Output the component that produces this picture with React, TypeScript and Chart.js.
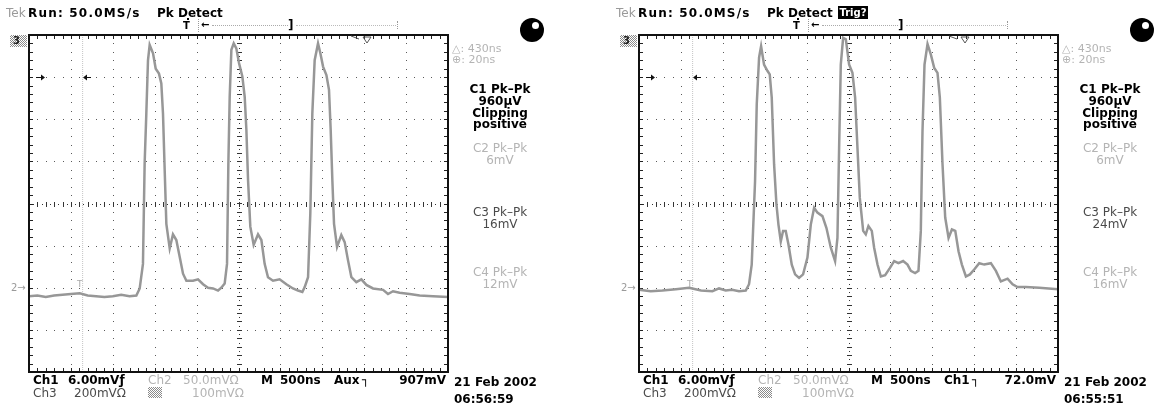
import React, { useEffect, useRef } from "react";
import { Chart, registerables } from "chart.js";

Chart.register(...registerables);

// ---- axis ranges (Tek scope: 10 x 500 ns, 8 x 6 mV) ----
const TIME_MIN_NS = 0;
const TIME_MAX_NS = 5000;
const TIME_DIV_NS = 500;
const VOLT_MIN_MV = -24;
const VOLT_MAX_MV = 24;
const VOLT_DIV_MV = 6;

// ---- left capture (06:56:59) ----
const LEFT_TIME_NS = [
  0, 100, 200, 300, 400, 500, 605, 700, 800, 900, 1000, 1100, 1200, 1281, 1321, 1360, 1380, 1400, 1420, 1440,
  1480, 1512, 1551, 1579, 1599, 1619, 1639, 1679, 1718, 1758, 1798, 1838, 1878, 1957, 2017, 2077, 2136, 2196,
  2256, 2295, 2335, 2363, 2379, 2395, 2415, 2443, 2474, 2506, 2546, 2574, 2594, 2614, 2641, 2681, 2733, 2773,
  2812, 2852, 2912, 2991, 3071, 3150, 3210, 3262, 3290, 3330, 3357, 3381, 3409, 3449, 3477, 3509, 3549, 3580,
  3600, 3620, 3640, 3676, 3727, 3767, 3807, 3847, 3906, 3966, 4026, 4105, 4225, 4284, 4344, 4423, 4543, 4662,
  4821, 5000,
];
const LEFT_CH1_MV = [
  -13.2, -13.1, -13.3, -13.1, -13.0, -12.9, -12.8, -13.1, -13.2, -13.3, -13.2, -13.0, -13.2, -13.1, -12.1, -8.6,
  5.7, 12.8, 20.4, 22.6, 21.4, 19.2, 18.5, 17.1, 12.8, 4.8, -2.9, -6.4, -4.4, -5.2, -7.6, -10.0, -11.0, -11.0,
  -10.8, -11.5, -12.0, -12.1, -12.4, -12.0, -11.4, -8.6, 5.7, 15.2, 21.9, 22.8, 22.1, 20.0, 18.1, 15.2, 10.5,
  3.3, -3.3, -5.9, -4.4, -5.2, -8.6, -10.5, -11.0, -10.8, -11.5, -12.1, -12.4, -12.6, -11.9, -10.5, -1.4, 12.8,
  20.4, 22.8, 21.4, 19.5, 18.3, 16.2, 10.5, 3.3, -2.9, -6.2, -4.5, -5.5, -8.1, -10.5, -11.2, -10.8, -11.6,
  -12.1, -12.3, -12.9, -12.5, -12.7, -12.9, -13.1, -13.2, -13.3,
];

// ---- right capture (06:55:51) ----
const RIGHT_TIME_NS = [
  0, 140, 279, 440, 597, 740, 876, 955, 1035, 1110, 1194, 1274, 1313, 1345, 1361, 1385, 1405, 1433, 1457, 1492,
  1532, 1560, 1584, 1612, 1640, 1664, 1692, 1719, 1751, 1783, 1823, 1863, 1910, 1958, 2010, 2050, 2090, 2129,
  2189, 2237, 2289, 2340, 2368, 2388, 2408, 2436, 2468, 2507, 2547, 2579, 2607, 2635, 2675, 2706, 2738, 2778,
  2806, 2846, 2886, 2937, 2993, 3045, 3096, 3152, 3204, 3244, 3295, 3335, 3363, 3383, 3407, 3443, 3483, 3523,
  3562, 3590, 3622, 3654, 3694, 3734, 3774, 3813, 3853, 3901, 3949, 4000, 4060, 4120, 4199, 4259, 4318, 4398,
  4458, 4517, 4617, 4776, 5000,
];
const RIGHT_CH1_MV = [
  -12.3, -12.5, -12.4, -12.2, -12.0, -12.4, -12.5, -12.1, -12.4, -12.3, -12.5, -12.4, -11.5, -8.7, -3.9, 3.2,
  14.1, 20.8, 22.4, 19.8, 18.9, 18.4, 15.1, 5.6, -0.1, -3.0, -5.4, -3.9, -3.9, -5.8, -8.7, -10.1, -10.6, -10.1,
  -7.7, -3.0, -0.6, -1.3, -1.8, -3.5, -6.3, -8.2, -4.9, 7.9, 19.8, 23.6, 23.4, 19.8, 18.6, 15.1, 7.9, 0.8, -3.9,
  -4.4, -3.2, -3.9, -6.3, -8.7, -10.4, -10.2, -9.2, -8.2, -8.5, -8.2, -8.7, -9.6, -9.9, -9.6, -3.9, 10.3, 19.8,
  22.7, 21.2, 19.3, 18.6, 15.1, 5.6, -2.0, -4.9, -3.7, -3.9, -6.8, -8.7, -10.4, -10.1, -9.4, -8.5, -8.7, -8.5,
  -9.6, -11.1, -10.7, -11.5, -11.9, -11.9, -12.0, -12.2,
];

// ---- cursors / markers ----
const CURSOR_TIME_NS = 640;
const CURSOR_LEVEL_MV = 18;
const CURSOR_ARROWS_NS = [167, 668];
const TRIGGER_MARK_NS = [4033, 3890];

// ---- texts ----
const PANEL_TRIG_SOURCE = ["Aux", "Ch1"];
const PANEL_TRIG_LEVEL = ["907mV", "72.0mV"];
const PANEL_C3 = ["16mV", "24mV"];
const PANEL_C4 = ["12mV", "16mV"];
const PANEL_TIME = ["06:56:59", "06:55:51"];
const PANEL_DATE = ["21 Feb 2002", "21 Feb 2002"];
const PANEL_TRIG_BOX = [false, true];
const PANEL_LEFT = [0, 610];
const PANEL_WIDTH = [610, 547];

const FONT = '"DejaVu Sans", Verdana, sans-serif';
const H = 408;
const PLOT_LEFT = 29;
const PLOT_RIGHT = 448;
const PLOT_TOP = 35;
const PLOT_BOTTOM = 372;

const scopePlugin = {
  id: "scopeDecor",
  beforeDatasetsDraw(chart: any) {
    const { ctx, chartArea: a, scales } = chart;
    const xs = scales.x;
    const ys = scales.y;
    const xMid = (TIME_MIN_NS + TIME_MAX_NS) / 2;
    const yMid = 0;
    ctx.save();
    // dotted graticule from the scales' own ticks: a dot every 1/5 division
    ctx.fillStyle = "#5a5a5a";
    for (const tk of xs.ticks) {
      if (tk.value === TIME_MIN_NS || tk.value === TIME_MAX_NS || tk.value === xMid) continue;
      const px = Math.round(xs.getPixelForValue(tk.value));
      for (let v = VOLT_MIN_MV; v <= VOLT_MAX_MV + 1e-6; v += VOLT_DIV_MV / 5) {
        ctx.fillRect(px, Math.round(ys.getPixelForValue(v)), 1, 1);
      }
    }
    for (const tk of ys.ticks) {
      if (tk.value === VOLT_MIN_MV || tk.value === VOLT_MAX_MV || tk.value === yMid) continue;
      const py = Math.round(ys.getPixelForValue(tk.value));
      for (let t = TIME_MIN_NS; t <= TIME_MAX_NS; t += TIME_DIV_NS / 5) {
        ctx.fillRect(Math.round(xs.getPixelForValue(t)), py, 1, 1);
      }
    }
    // center crosshair: dots every 1/10 div, ticks every 1/5 div
    ctx.fillStyle = "#333";
    const cy = Math.round(ys.getPixelForValue(yMid));
    const cx = Math.round(xs.getPixelForValue(xMid));
    for (let t = TIME_MIN_NS; t <= TIME_MAX_NS; t += TIME_DIV_NS / 10) {
      const px = Math.round(xs.getPixelForValue(t));
      const k = Math.round((t - TIME_MIN_NS) / (TIME_DIV_NS / 10));
      if (k % 2 === 0) ctx.fillRect(px, cy - 2, 1, 5);
      else ctx.fillRect(px, cy, 1, 1);
    }
    for (let v = VOLT_MIN_MV; v <= VOLT_MAX_MV + 1e-6; v += VOLT_DIV_MV / 10) {
      const py = Math.round(ys.getPixelForValue(v));
      const k = Math.round((v - VOLT_MIN_MV) / (VOLT_DIV_MV / 10));
      if (k % 2 === 0) ctx.fillRect(cx - 2, py, 5, 1);
      else ctx.fillRect(cx, py, 1, 1);
    }
    // border ticks inward every 1/5 division
    ctx.fillStyle = "#222";
    for (let t = TIME_MIN_NS; t <= TIME_MAX_NS; t += TIME_DIV_NS / 5) {
      const px = Math.round(xs.getPixelForValue(t));
      ctx.fillRect(px, a.top, 1, 4);
      ctx.fillRect(px, a.bottom - 4, 1, 4);
    }
    for (let v = VOLT_MIN_MV; v <= VOLT_MAX_MV + 1e-6; v += VOLT_DIV_MV / 5) {
      const py = Math.round(ys.getPixelForValue(v));
      ctx.fillRect(a.left, py, 4, 1);
      ctx.fillRect(a.right - 4, py, 4, 1);
    }
    ctx.restore();
  },
  afterDatasetsDraw(chart: any, _args: any, opts: any) {
    const { ctx, chartArea: a, scales } = chart;
    const xs = scales.x;
    const ys = scales.y;
    ctx.save();
    // frame
    ctx.strokeStyle = "#111";
    ctx.lineWidth = 2;
    ctx.strokeRect(a.left, a.top, a.right - a.left, a.bottom - a.top);
    // cursor arrows
    const ay = Math.round(ys.getPixelForValue(CURSOR_LEVEL_MV)) + 0.5;
    ctx.fillStyle = "#111";
    ctx.strokeStyle = "#111";
    ctx.lineWidth = 1;
    const p1 = Math.round(xs.getPixelForValue(CURSOR_ARROWS_NS[0]));
    ctx.beginPath();
    ctx.moveTo(p1 - 7, ay);
    ctx.lineTo(p1, ay);
    ctx.stroke();
    ctx.beginPath();
    ctx.moveTo(p1 + 2, ay);
    ctx.lineTo(p1 - 2, ay - 3);
    ctx.lineTo(p1 - 2, ay + 3);
    ctx.closePath();
    ctx.fill();
    const p2 = Math.round(xs.getPixelForValue(CURSOR_ARROWS_NS[1]));
    ctx.beginPath();
    ctx.moveTo(p2, ay);
    ctx.lineTo(p2 + 6, ay);
    ctx.stroke();
    ctx.beginPath();
    ctx.moveTo(p2 - 2, ay);
    ctx.lineTo(p2 + 2, ay - 3);
    ctx.lineTo(p2 + 2, ay + 3);
    ctx.closePath();
    ctx.fill();
    // trigger position marker on top edge
    const tx = Math.round(xs.getPixelForValue(opts.triggerNs));
    ctx.strokeStyle = "#555";
    ctx.beginPath();
    ctx.moveTo(tx - 4, a.top + 2);
    ctx.lineTo(tx + 4, a.top + 2);
    ctx.lineTo(tx, a.top + 8);
    ctx.closePath();
    ctx.stroke();
    ctx.beginPath();
    ctx.moveTo(tx - 16, a.top + 1);
    ctx.lineTo(tx - 8, a.top + 4);
    ctx.stroke();
    ctx.restore();
  },
};

type TxtProps = {
  x: number;
  y: number;
  text: string;
  color?: string;
  bold?: boolean;
  size?: number;
  align?: "left" | "center" | "right";
  spacing?: number;
};

function Txt({ x, y, text, color = "#000", bold = true, size = 12, align = "left", spacing = 0 }: TxtProps) {
  const style: any = {
    position: "absolute",
    top: y - size * 0.6,
    height: size * 1.2,
    lineHeight: `${size * 1.2}px`,
    fontFamily: FONT,
    fontSize: size,
    fontWeight: bold ? 700 : 400,
    color,
    whiteSpace: "nowrap",
    letterSpacing: spacing ? `${spacing}px` : undefined,
  };
  if (align === "left") style.left = x;
  else if (align === "center") {
    style.left = x - 80;
    style.width = 160;
    style.textAlign = "center";
  } else {
    style.left = x - 160;
    style.width = 160;
    style.textAlign = "right";
  }
  return <div style={style}>{text}</div>;
}

const checker: any = {
  position: "absolute",
  backgroundImage: "repeating-conic-gradient(#8a8a8a 0 25%, #ffffff 0 50%)",
  backgroundSize: "2px 2px",
};

function ScopePanel({ idx, times, values }: { idx: number; times: number[]; values: number[] }) {
  const ref = useRef<HTMLCanvasElement>(null);
  const W = PANEL_WIDTH[idx];
  useEffect(() => {
    const chart = new Chart(ref.current as HTMLCanvasElement, {
      type: "line",
      data: {
        datasets: [
          {
            label: "Ch1",
            data: times.map((t, i) => ({ x: t, y: values[i] })),
            borderColor: "#979797",
            borderWidth: 2.5,
            pointRadius: 0,
            tension: 0,
            order: 0,
          },
          {
            label: "cursor",
            data: [
              { x: CURSOR_TIME_NS, y: VOLT_MIN_MV },
              { x: CURSOR_TIME_NS, y: VOLT_MAX_MV },
            ],
            borderColor: "#c4c4c4",
            borderWidth: 1,
            borderDash: [1, 1],
            pointRadius: 0,
            order: 1,
          },
        ],
      },
      options: {
        animation: false,
        responsive: false,
        maintainAspectRatio: false,
        devicePixelRatio: 1,
        events: [],
        layout: {
          padding: { left: PLOT_LEFT, top: PLOT_TOP, right: W - PLOT_RIGHT, bottom: H - PLOT_BOTTOM },
        },
        plugins: {
          legend: { display: false },
          tooltip: { enabled: false },
          title: { display: false },
          scopeDecor: { triggerNs: TRIGGER_MARK_NS[idx] },
        } as any,
        scales: {
          x: {
            type: "linear",
            min: TIME_MIN_NS,
            max: TIME_MAX_NS,
            ticks: { display: false, stepSize: TIME_DIV_NS },
            grid: { display: false, drawTicks: false },
            border: { display: false },
          },
          y: {
            type: "linear",
            min: VOLT_MIN_MV,
            max: VOLT_MAX_MV,
            ticks: { display: false, stepSize: VOLT_DIV_MV },
            grid: { display: false, drawTicks: false },
            border: { display: false },
          },
        },
      },
      plugins: [scopePlugin as any],
    });
    return () => chart.destroy();
  }, []);

  const light = "#b4b4b4";
  const mid = "#4a4a4a";
  const rc = 500; // right column centre

  return (
    <div style={{ position: "absolute", left: PANEL_LEFT[idx], top: 0, width: W, height: H, overflow: "hidden" }}>
      <canvas ref={ref} width={W} height={H} style={{ position: "absolute", left: 0, top: 0, width: W, height: H }} />
      {/* header */}
      <Txt x={6} y={13} text="Tek" color="#9a9a9a" bold={false} />
      <Txt x={28} y={13} text="Run: 50.0MS/s" spacing={1.2} />
      <Txt x={157} y={13} text="Pk Detect" />
      {PANEL_TRIG_BOX[idx] && (
        <div
          style={{
            position: "absolute",
            left: 228,
            top: 6,
            width: 30,
            height: 13,
            background: "#000",
            color: "#fff",
            fontFamily: FONT,
            fontWeight: 700,
            fontSize: 10,
            lineHeight: "13px",
            textAlign: "center",
          }}
        >
          Trig?
        </div>
      )}
      {/* record / trigger bar */}
      <Txt x={183} y={26} text="T" size={10} />
      <div style={{ position: "absolute", left: 187, top: 18, width: 2, height: 2, background: "#000" }} />
      <div style={{ position: "absolute", left: 198, top: 19, width: 0, height: 13, borderLeft: "1px dotted #999" }} />
      <Txt x={201} y={25} text="←" size={10} />
      <div style={{ position: "absolute", left: 212, top: 25, width: 76, height: 0, borderTop: "1px dotted #aaa" }} />
      <Txt x={288} y={25} text="]" size={12} />
      <div style={{ position: "absolute", left: 296, top: 25, width: 100, height: 0, borderTop: "1px dotted #bbb" }} />
      <div style={{ position: "absolute", left: 397, top: 21, width: 0, height: 8, borderLeft: "1px dotted #999" }} />
      {/* channel markers left of graticule */}
      <div style={{ ...checker, left: 10, top: 35, width: 17, height: 12 }} />
      <Txt x={13} y={41} text="3" size={10} color="#222" />
      <Txt x={11} y={288} text="2→" size={10} color="#9a9a9a" bold={false} />
      <Txt x={77} y={284} text="T" size={9} color="#aaa" bold={false} />
      {/* readouts right column */}
      <Txt x={452} y={49} text="△: 430ns" size={11} color={light} bold={false} />
      <Txt x={452} y={60} text="⊕: 20ns" size={11} color={light} bold={false} />
      <Txt x={rc} y={89} text="C1 Pk–Pk" align="center" />
      <Txt x={rc} y={101} text="960µV" align="center" />
      <Txt x={rc} y={113} text="Clipping" align="center" />
      <Txt x={rc} y={124} text="positive" align="center" />
      <Txt x={rc} y={148} text="C2 Pk–Pk" align="center" color={light} bold={false} />
      <Txt x={rc} y={160} text="6mV" align="center" color={light} bold={false} />
      <Txt x={rc} y={212} text="C3 Pk–Pk" align="center" color={mid} bold={false} />
      <Txt x={rc} y={224} text={PANEL_C3[idx]} align="center" color={mid} bold={false} />
      <Txt x={rc} y={272} text="C4 Pk–Pk" align="center" color={light} bold={false} />
      <Txt x={rc} y={284} text={PANEL_C4[idx]} align="center" color={light} bold={false} />
      <Txt x={454} y={382} text={PANEL_DATE[idx]} />
      <Txt x={454} y={399} text={PANEL_TIME[idx]} />
      {/* status ball */}
      <div style={{ position: "absolute", left: 520, top: 18, width: 24, height: 24, borderRadius: "50%", background: "#000" }}>
        <div style={{ position: "absolute", left: 12, top: 4, width: 7, height: 7, borderRadius: "50%", background: "#fff" }} />
      </div>
      {/* bottom readouts */}
      <Txt x={33} y={380} text="Ch1" />
      <Txt x={68} y={380} text="6.00mVƒ" />
      <Txt x={148} y={380} text="Ch2" color={light} bold={false} />
      <Txt x={183} y={380} text="50.0mVΩ" color={light} bold={false} />
      <Txt x={261} y={380} text="M" />
      <Txt x={280} y={380} text="500ns" />
      <Txt x={334} y={380} text={PANEL_TRIG_SOURCE[idx]} />
      <Txt x={362} y={380} text="┐" />
      <Txt x={446} y={380} text={PANEL_TRIG_LEVEL[idx]} align="right" />
      <Txt x={33} y={393} text="Ch3" color={mid} bold={false} />
      <Txt x={74} y={393} text="200mVΩ" color={mid} bold={false} />
      <div style={{ ...checker, left: 148, top: 387, width: 14, height: 11 }} />
      <Txt x={192} y={393} text="100mVΩ" color={light} bold={false} />
    </div>
  );
}

export default function App() {
  useEffect(() => {
    document.body.style.margin = "0";
  }, []);
  return (
    <div style={{ position: "absolute", left: 0, top: 0, width: 1157, height: H, background: "#fff", overflow: "hidden" }}>
      <ScopePanel idx={0} times={LEFT_TIME_NS} values={LEFT_CH1_MV} />
      <ScopePanel idx={1} times={RIGHT_TIME_NS} values={RIGHT_CH1_MV} />
    </div>
  );
}
